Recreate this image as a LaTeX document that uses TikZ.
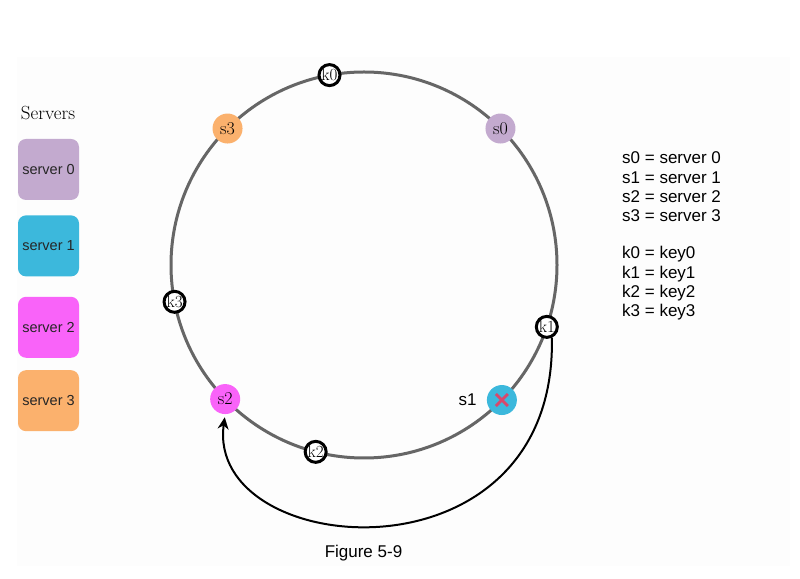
\documentclass[tikz,border=0pt]{standalone}
\usepackage{fontspec}
\setsansfont{Liberation Sans}
\usepackage{xcolor}
\definecolor{srvZero}{HTML}{C3AACF}
\definecolor{srvOne}{HTML}{3CB8DC}
\definecolor{srvTwo}{HTML}{F963F9}
\definecolor{srvThree}{HTML}{FBB16D}
\definecolor{ringGray}{HTML}{666666}
\definecolor{crossRed}{HTML}{D9486B}
\usepackage{tikz}
\usetikzlibrary{arrows.meta,positioning,calc}

\begin{document}
\begin{tikzpicture}[
  x=1pt,y=1pt,
  legend/.style={rounded corners=8pt,minimum width=61pt,minimum height=61pt,font=\sffamily\fontsize{14.5}{16}\selectfont,text=black!85},
  srv/.style={circle,minimum size=30pt,inner sep=0pt,font=\fontsize{18}{18}\selectfont},
  key/.style={circle,draw=black,line width=3pt,fill=white,minimum size=21pt,inner sep=0pt,font=\fontsize{17}{17}\selectfont},
  note/.style={font=\sffamily\fontsize{17}{19.4}\selectfont,align=left,inner sep=0pt},
  arr/.style={-{Stealth[length=12pt,width=11pt]},line width=2pt}
]
\useasboundingbox (0,0) rectangle (800,578);
\fill[black!0.7] (17,12) rectangle (790,521);

% server legend
\node[font=\fontsize{19}{20}\selectfont] (title) at (48,465) {Servers};
\node[legend,fill=srvZero] (srv0) at (48.5,408.5) {server 0};
\node[legend,fill=srvOne,below=15pt of srv0] (srv1) {server 1};
\node[legend,fill=srvTwo,below=20pt of srv1] (srv2) {server 2};
\node[legend,fill=srvThree,below=12pt of srv2] (srv3) {server 3};

% hash ring
\coordinate (c) at (364,313);
\draw[ringGray,line width=3pt] (c) circle[radius=193];
\node[srv,fill=srvZero] (s0) at ($(c)+(45:193)$) {s0};
\node[srv,fill=srvOne] (s1) at ($(c)+(315.6:193)$) {};
\node[srv,fill=srvTwo] (s2) at ($(c)+(224:193)$) {s2};
\node[srv,fill=srvThree] (s3) at ($(c)+(135:193)$) {s3};
\node[key] (k0) at ($(c)+(100.3:193)$) {k0};
\node[key] (k1) at ($(c)+(341.3:193)$) {k1};
\node[key] (k2) at ($(c)+(255.5:193)$) {k2};
\node[key] (k3) at ($(c)+(191:193)$) {k3};
\draw[crossRed,line width=2.8pt] ([shift={(-6,6)}]s1.center) -- ([shift={(6,-6)}]s1.center);
\draw[crossRed,line width=2.8pt] ([shift={(-6,-6)}]s1.center) -- ([shift={(6,6)}]s1.center);
\node[note,left=10pt of s1] (s1lbl) {s1};

% k1 moves to s2
\draw[arr,shorten >=3pt] (k1.-65) .. controls (557,-12) and (205,18) .. (s2.south);

% definitions
\node[note,anchor=west] (sdef) at (622,391) {s0 = server 0\\s1 = server 1\\s2 = server 2\\s3 = server 3};
\node[note,anchor=west] (kdef) at (622,294.5) {k0 = key0\\k1 = key1\\k2 = key2\\k3 = key3};

\node[note] (caption) at (363.5,25) {Figure 5-9};
\end{tikzpicture}
\end{document}
